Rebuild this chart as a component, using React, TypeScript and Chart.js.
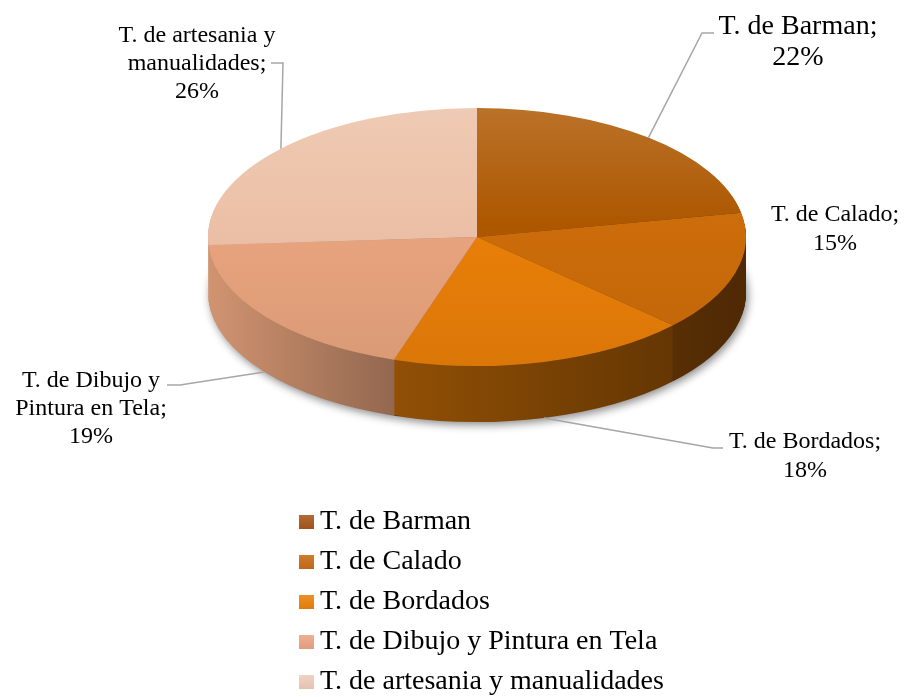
import { useEffect, useRef } from "react";
import { Chart, registerables } from "chart.js";

Chart.register(...registerables);

// ---------- data ----------
const categories = [
  "T. de Barman",
  "T. de Calado",
  "T. de Bordados",
  "T. de Dibujo y Pintura en Tela",
  "T. de artesania y manualidades",
];
const values = [22, 15, 18, 19, 26];
const sliceColors = ["#AD5700", "#CC6C0A", "#E97F08", "#E8A47E", "#ECC0A6"];
const legendColors = ["#A9561A", "#C96B14", "#EC8108", "#EAA583", "#F0CCBB"];
const labelWrap = [
  ["T. de Barman;"],
  ["T. de Calado;"],
  ["T. de Bordados;"],
  ["T. de Dibujo y", "Pintura en Tela;"],
  ["T. de artesania y", "manualidades;"],
];

// ---------- layout ----------
const W = 904;
const H = 697;
const TOP_CY = 237; // screen centre of the ellipse
const RY = 129; // vertical radius of the ellipse
const DEPTH = 56;
const FONT = '"Liberation Serif", "Times New Roman", serif';

type LabelSpec = { x: number; base: number; lh: number; size: number; leader: number[][] | null };
const labelSpecs: LabelSpec[] = [
  { x: 798, base: 34, lh: 31, size: 28, leader: [[702, 33], [714, 33]] },
  { x: 835, base: 221, lh: 29, size: 24, leader: null },
  { x: 805, base: 448, lh: 29, size: 24, leader: [[713, 448], [723, 448]] },
  { x: 91, base: 387, lh: 28, size: 24, leader: [[180, 385], [167, 385]] },
  { x: 197, base: 42, lh: 28, size: 24, leader: [[283, 63], [271, 63]] },
];

function rgb(hex: string) {
  const n = parseInt(hex.slice(1), 16);
  return [(n >> 16) & 255, (n >> 8) & 255, n & 255];
}
function shade(hex: string, f: number) {
  const [r, g, b] = rgb(hex);
  return `rgb(${Math.round(r * f)},${Math.round(g * f)},${Math.round(b * f)})`;
}
function tint(hex: string, t: number) {
  const [r, g, b] = rgb(hex);
  return `rgb(${Math.round(r + (255 - r) * t)},${Math.round(g + (255 - g) * t)},${Math.round(b + (255 - b) * t)})`;
}

function applyEllipse(ctx: CanvasRenderingContext2D, cx: number, cy: number, k: number) {
  ctx.translate(cx, TOP_CY);
  ctx.scale(1, k);
  ctx.translate(-cx, -cy);
}

const pie3d = {
  id: "pie3d",
  beforeDatasetsDraw(chart: any) {
    const meta = chart.getDatasetMeta(0);
    const arcs = meta.data;
    chart.$pieSaved = false;
    if (!arcs.length) return;
    const ctx: CanvasRenderingContext2D = chart.ctx;
    const a0 = arcs[0];
    const cx = a0.x;
    const cy = a0.y;
    const R = a0.outerRadius;
    const k = RY / R;
    const grads = sliceColors.map((c) => {
      const g = ctx.createLinearGradient(cx - R, 0, cx + R, 0);
      g.addColorStop(0, shade(c, 0.9));
      g.addColorStop(0.36, shade(c, 0.62));
      g.addColorStop(1, shade(c, 0.38));
      return g;
    });
    for (let d = DEPTH; d >= 1; d--) {
      ctx.save();
      if (d === DEPTH) {
        ctx.shadowColor = "rgba(0,0,0,0.45)";
        ctx.shadowBlur = 9;
        ctx.shadowOffsetX = 2;
        ctx.shadowOffsetY = 3;
      }
      ctx.translate(0, d);
      applyEllipse(ctx, cx, cy, k);
      arcs.forEach((el: any, i: number) => {
        const fake = Object.create(el);
        fake.options = Object.assign({}, el.options, { backgroundColor: grads[i], borderWidth: 0 });
        fake.draw(ctx);
      });
      ctx.restore();
    }
    ctx.save();
    applyEllipse(ctx, cx, cy, k);
    chart.$pieSaved = true;
  },
  afterDatasetsDraw(chart: any) {
    if (chart.$pieSaved) chart.ctx.restore();
    chart.$pieSaved = false;
  },
  afterDraw(chart: any) {
    const ctx: CanvasRenderingContext2D = chart.ctx;
    const meta = chart.getDatasetMeta(0);
    const arcs = meta.data;
    if (!arcs.length) return;
    const total = values.reduce((s, v) => s + v, 0);
    const cx = arcs[0].x;
    const R = arcs[0].outerRadius;
    ctx.save();
    // data labels
    arcs.forEach((el: any, i: number) => {
      const spec = labelSpecs[i];
      const mid = (el.startAngle + el.endAngle) / 2;
      const ax = cx + R * Math.cos(mid);
      let ay = TOP_CY + RY * Math.sin(mid);
      if (Math.sin(mid) > 0.05) ay += DEPTH;
      if (spec.leader) {
        ctx.strokeStyle = "#A6A6A6";
        ctx.lineWidth = 1.5;
        ctx.beginPath();
        ctx.moveTo(ax, ay);
        spec.leader.forEach((p) => ctx.lineTo(p[0], p[1]));
        ctx.stroke();
      }
      const lines = [...labelWrap[i], `${Math.round((values[i] / total) * 100)}%`];
      ctx.fillStyle = "#000";
      ctx.font = `${spec.size}px ${FONT}`;
      ctx.textAlign = "center";
      ctx.textBaseline = "alphabetic";
      lines.forEach((t, j) => ctx.fillText(t, spec.x, spec.base + j * spec.lh));
    });
    // legend
    ctx.textAlign = "left";
    ctx.font = `28px ${FONT}`;
    categories.forEach((name, i) => {
      const y = 515 + i * 40;
      const g = ctx.createLinearGradient(0, y, 0, y + 14);
      g.addColorStop(0, tint(legendColors[i], 0.12));
      g.addColorStop(1, shade(legendColors[i], 0.95));
      ctx.fillStyle = g;
      ctx.fillRect(299, y, 15, 14);
      ctx.fillStyle = "#000";
      ctx.fillText(name, 320, y + 14);
    });
    ctx.restore();
  },
};

export default function App() {
  const ref = useRef<HTMLCanvasElement | null>(null);
  useEffect(() => {
    if (!ref.current) return;
    const chart = new Chart(ref.current, {
      type: "pie",
      data: {
        labels: categories,
        datasets: [
          {
            data: values,
            borderWidth: 0,
            backgroundColor: (c: any) => {
              const base = sliceColors[c.dataIndex] || "#999";
              const area = c.chart.chartArea;
              if (!area) return base;
              const g = c.chart.ctx.createLinearGradient(0, area.top, 0, area.bottom);
              g.addColorStop(0, tint(base, 0.16));
              g.addColorStop(0.45, base);
              g.addColorStop(1, shade(base, 0.94));
              return g;
            },
          },
        ],
      },
      options: {
        responsive: true,
        maintainAspectRatio: false,
        animation: false,
        events: [],
        layout: { padding: { left: 208, right: 158, top: 0, bottom: 159 } },
        plugins: { legend: { display: false }, tooltip: { enabled: false } },
      },
      plugins: [pie3d],
    });
    return () => chart.destroy();
  }, []);
  return (
    <div style={{ position: "absolute", left: 0, top: 0, width: W, height: H, background: "#fff" }}>
      <canvas ref={ref} />
    </div>
  );
}
